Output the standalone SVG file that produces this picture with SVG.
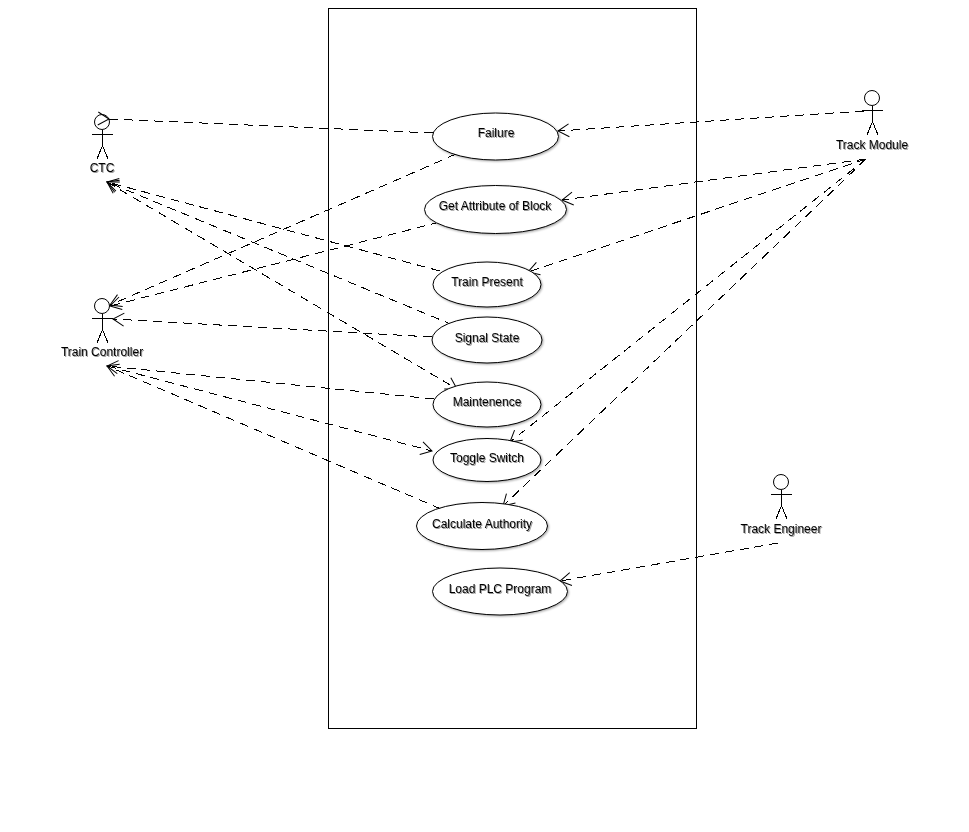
<svg xmlns="http://www.w3.org/2000/svg" width="969" height="832" viewBox="0 0 969 832">
<style>
text{font-family:"Liberation Sans",Arial,sans-serif;font-size:12px;fill:#000;text-anchor:middle;filter:url(#ts)}
.a{fill:none;stroke:#000;stroke-width:1;shape-rendering:crispEdges}
.u{fill:#fff;stroke:#000;stroke-width:1;filter:url(#ds)}
.c{fill:none;stroke:#000;stroke-width:1;stroke-dasharray:9 6;shape-rendering:crispEdges}
.e{marker-end:url(#o)}
.b{marker-end:url(#o);marker-start:url(#r)}
.s{marker-start:url(#o)}
</style>
<defs>
<filter id="ts" x="-10%" y="-30%" width="120%" height="170%"><feDropShadow dx="1" dy="1" stdDeviation="0.7" flood-color="#000" flood-opacity="0.4"/></filter>
<filter id="ds" x="-5%" y="-10%" width="110%" height="125%"><feDropShadow dx="1" dy="1" stdDeviation="0.8" flood-color="#000" flood-opacity="0.35"/></filter>
<marker id="o" markerUnits="userSpaceOnUse" markerWidth="32" markerHeight="32" refX="16" refY="16" orient="auto" overflow="visible"><path d="M5 9.500L16 16L5 22.500" fill="none" stroke="#000" stroke-dasharray="none"/></marker>
<marker id="r" markerUnits="userSpaceOnUse" markerWidth="32" markerHeight="32" refX="16" refY="16" orient="auto-start-reverse" overflow="visible"><path d="M5 9.500L16 16L5 22.500" fill="none" stroke="#000" stroke-dasharray="none"/></marker>
<g id="stick"><circle cx="0" cy="0" r="7.500" shape-rendering="auto"/><path d="M0.500 7.500V23.500M-10 12.500H11M0.500 23.500L-5 37M0.500 23.500L6 37"/></g>
</defs>
<rect id="system" x="328.500" y="8.500" width="368" height="720" fill="#fff" stroke="#000" shape-rendering="crispEdges"/>
<g id="connectors">
<path class="c s" d="M109 119L433 133"/>
<path class="c e" d="M864 111L558 131"/>
<path class="c e" d="M456 154L110 305"/>
<path class="c e" d="M440 222L110 306"/>
<path class="c e" d="M866 159L562 200"/>
<path class="c e" d="M866 159L528 272"/>
<path class="c e" d="M866 159L510 442"/>
<path class="c e" d="M866 159L503 506"/>
<path class="c e" d="M440 271L107 182"/>
<path class="c e" d="M453 325L107 182"/>
<path class="c b" d="M107 182L457 389"/>
<path class="c e" d="M432 337L113 319"/>
<path class="c e" d="M434 399L107 366"/>
<path class="c e" d="M107 366L432 451"/>
<path class="c e" d="M441 509L107 366"/>
<path class="c e" d="M778 543L560 581"/>
</g>
<g id="ctc"><use href="#stick" x="102" y="122" class="a"/><text x="102" y="172">CTC</text></g>
<g id="train-controller"><use href="#stick" x="102" y="306" class="a"/><text x="102" y="356">Train Controller</text></g>
<g id="track-module"><use href="#stick" x="872" y="98" class="a"/><text x="872" y="149">Track Module</text></g>
<g id="track-engineer"><use href="#stick" x="781" y="482" class="a"/><text x="781" y="533">Track Engineer</text></g>
<g id="failure"><ellipse class="u" cx="495.500" cy="136.500" rx="63" ry="23.500"/><text x="496" y="137">Failure</text></g>
<g id="get-attribute"><ellipse class="u" cx="495.500" cy="209.500" rx="71" ry="24"/><text x="495" y="210">Get Attribute of Block</text></g>
<g id="train-present"><ellipse class="u" cx="487" cy="284.500" rx="54" ry="22.500"/><text x="487" y="286">Train Present</text></g>
<g id="signal-state"><ellipse class="u" cx="487" cy="340" rx="55" ry="23"/><text x="487" y="342">Signal State</text></g>
<g id="maintenence"><ellipse class="u" cx="487" cy="404.500" rx="54" ry="22.500"/><text x="487" y="406">Maintenence</text></g>
<g id="toggle-switch"><ellipse class="u" cx="487" cy="460" rx="54" ry="21.500"/><text x="487" y="462">Toggle Switch</text></g>
<g id="calculate-authority"><ellipse class="u" cx="482" cy="526" rx="65.500" ry="23.500"/><text x="482" y="528">Calculate Authority</text></g>
<g id="load-plc"><ellipse class="u" cx="500" cy="591.500" rx="67.500" ry="23.500"/><text x="500" y="593">Load PLC Program</text></g>
</svg>
